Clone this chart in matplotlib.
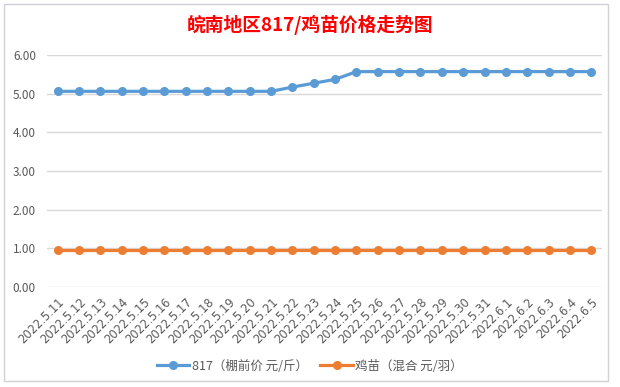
import matplotlib.pyplot as plt
from matplotlib.patches import Rectangle

plt.rcParams['font.family'] = ['Noto Sans CJK SC', 'DejaVu Sans']

dates = ['2022.5.11', '2022.5.12', '2022.5.13', '2022.5.14', '2022.5.15',
         '2022.5.16', '2022.5.17', '2022.5.18', '2022.5.19', '2022.5.20',
         '2022.5.21', '2022.5.22', '2022.5.23', '2022.5.24', '2022.5.25',
         '2022.5.26', '2022.5.27', '2022.5.28', '2022.5.29', '2022.5.30',
         '2022.5.31', '2022.6.1', '2022.6.2', '2022.6.3', '2022.6.4', '2022.6.5']
price_817 = [5.06] * 11 + [5.17, 5.27, 5.37] + [5.57] * 12
price_chick = [0.96] * 26

fig = plt.figure(figsize=(6.2, 3.87), dpi=100)
fig.patches.append(Rectangle((0.006, 0.015), 0.975, 0.975, transform=fig.transFigure,
                             fill=False, edgecolor='#D0D0D8', linewidth=1))
ax = fig.add_axes([0.0758, 0.2584, 0.895, 0.5995])

x = list(range(len(dates)))
ax.plot(x, price_817, color='#5B9BD5', linewidth=2.3, marker='o', markersize=5.5,
        label='817（棚前价 元/斤）')
ax.plot(x, price_chick, color='#ED7D31', linewidth=2.3, marker='o', markersize=5.5,
        label='鸡苗（混合 元/羽）')

ax.set_xlim(-0.5, len(dates) - 0.5)
ax.set_ylim(0, 6)
ax.set_yticks([0, 1, 2, 3, 4, 5, 6])
ax.set_yticklabels(['%.2f' % v for v in range(7)])
ax.grid(axis='y', color='#D9D9D9', linewidth=1)
ax.set_axisbelow(True)
for s in ax.spines.values():
    s.set_visible(False)
ax.tick_params(axis='both', length=0, colors='#595959', labelsize=8.5)
ax.tick_params(axis='y', pad=8)
ax.set_xticks(x)
ax.set_xticklabels(dates, rotation=45, ha='right', va='top', rotation_mode='anchor',
                   fontsize=8.3, family=['DejaVu Sans'])
ax.tick_params(axis='x', pad=6)

fig.text(0.5, 0.935, '皖南地区817/鸡苗价格走势图', ha='center', va='center',
         color='#FF0000', fontsize=13.5, fontweight='bold')

fig.legend(loc='center', bbox_to_anchor=(0.5, 0.054), ncol=2, frameon=False,
           fontsize=9, labelcolor='#595959', handlelength=2.6, columnspacing=1.0,
           handletextpad=0.2)

fig.savefig('out.png', dpi=100)
